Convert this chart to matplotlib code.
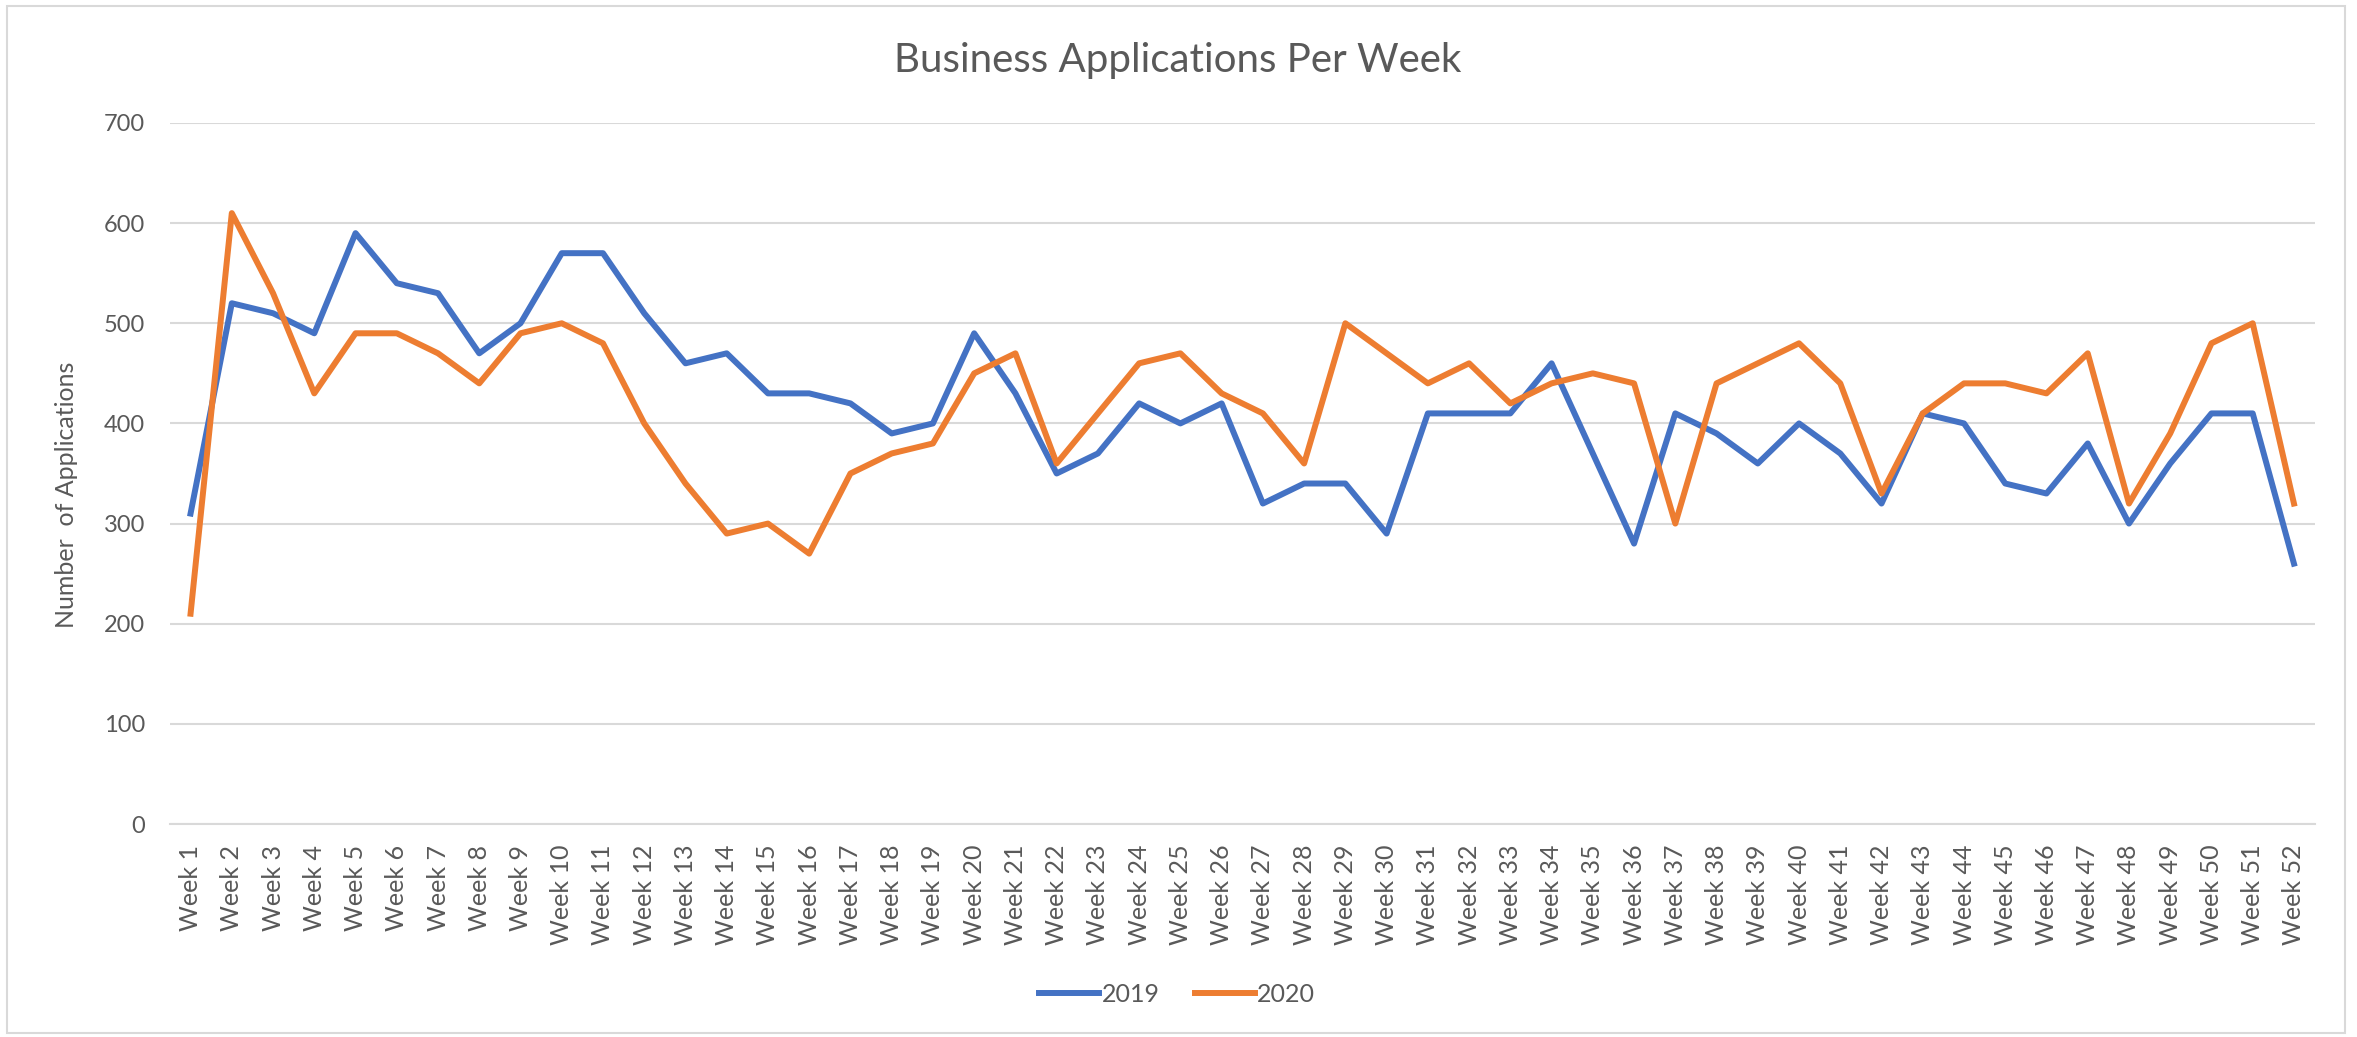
import matplotlib.pyplot as plt
from matplotlib.patches import Rectangle

# Chart data
weeks = [f"Week {i}" for i in range(1, 53)]
apps_2019 = [310, 520, 510, 490, 590, 540, 530, 470, 500, 570,
             570, 510, 460, 470, 430, 430, 420, 390, 400, 490,
             430, 350, 370, 420, 400, 420, 320, 340, 340, 290,
             410, 410, 410, 460, 370, 280, 410, 390, 360, 400,
             370, 320, 410, 400, 340, 330, 380, 300, 360, 410,
             410, 260]
apps_2020 = [210, 610, 530, 430, 490, 490, 470, 440, 490, 500,
             480, 400, 340, 290, 300, 270, 350, 370, 380, 450,
             470, 360, 410, 460, 470, 430, 410, 360, 500, 470,
             440, 460, 420, 440, 450, 440, 300, 440, 460, 480,
             440, 330, 410, 440, 440, 430, 470, 320, 390, 480,
             500, 320]
y_ticks = [0, 100, 200, 300, 400, 500, 600, 700]

BLUE = '#4472C4'
ORANGE = '#ED7D31'
TXT = '#595959'
GRID = '#D9D9D9'

plt.rcParams['font.family'] = ['Lato', 'DejaVu Sans']

fig = plt.figure(figsize=(23.57, 10.37), dpi=100)
ax = fig.add_axes([0.0721, 0.2054, 0.9099, 0.676])

x = list(range(len(weeks)))
ax.plot(x, apps_2019, color=BLUE, lw=4.3, label='2019', solid_joinstyle='round')
ax.plot(x, apps_2020, color=ORANGE, lw=4.3, label='2020', solid_joinstyle='round')

ax.set_xlim(-0.5, len(weeks) - 0.5)
ax.set_ylim(0, 700)
ax.set_yticks(y_ticks)
ax.set_xticks(x)
ax.set_xticklabels(weeks, rotation=90, fontsize=18, color=TXT)
ax.tick_params(axis='y', labelsize=17, colors=TXT, length=0, pad=18)
ax.tick_params(axis='x', length=0, pad=15)
ax.grid(axis='y', color=GRID, lw=1.5)
ax.set_axisbelow(True)
for s in ['top', 'right', 'left']:
    ax.spines[s].set_visible(False)
ax.spines['bottom'].set_color(GRID)
ax.spines['bottom'].set_linewidth(1.5)

ax.set_ylabel('Number  of Applications', fontsize=18, color=TXT)
ax.yaxis.set_label_coords(-0.043, 0.47)

fig.text(0.4995, 0.942, 'Business Applications Per Week', ha='center', va='center',
         fontsize=29, color=TXT)

fig.legend(loc='center', bbox_to_anchor=(0.4995, 0.041), ncol=2, frameon=False,
           fontsize=18, handlelength=2.4, columnspacing=1.4, handletextpad=0.1,
           labelcolor=TXT)

# light outer border like the Excel chart area
fig.patches.append(Rectangle((0.003, 0.004), 0.992, 0.99, transform=fig.transFigure,
                             fill=False, edgecolor=GRID, lw=1.5))

fig.savefig('out.png', dpi=100)
